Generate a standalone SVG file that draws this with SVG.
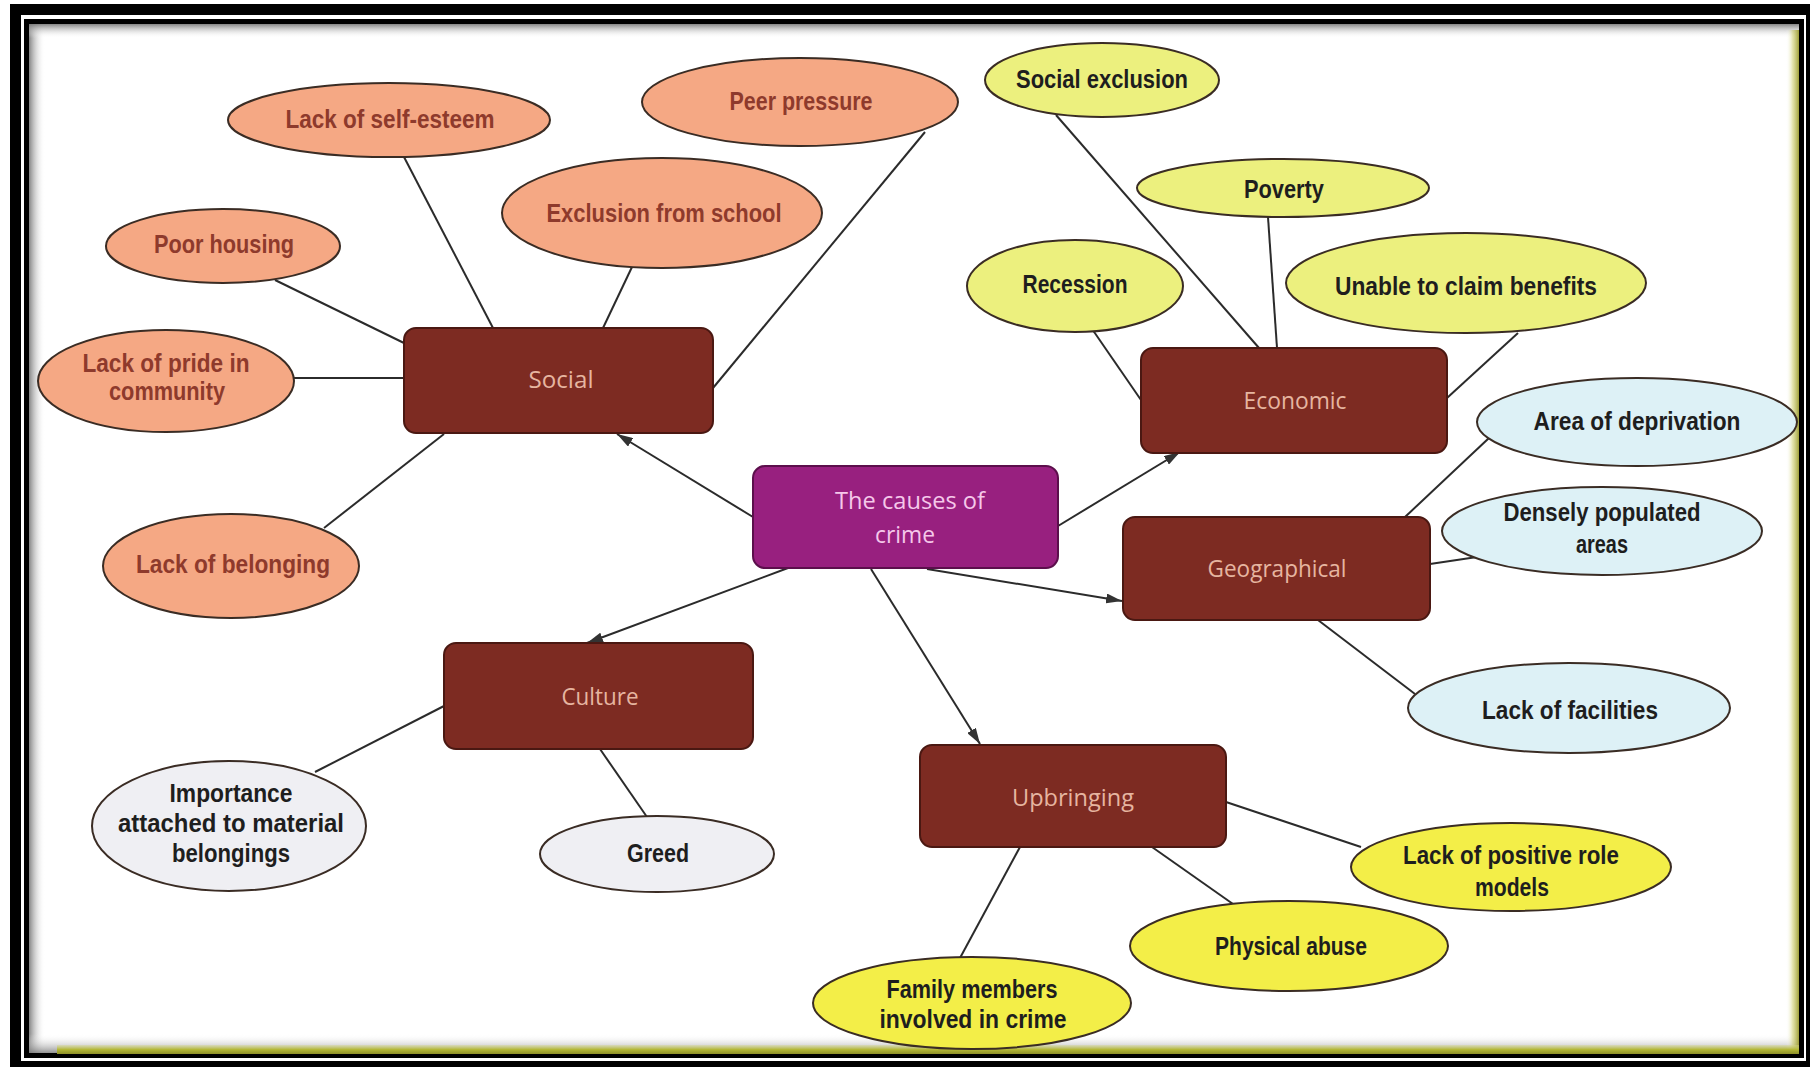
<svg xmlns="http://www.w3.org/2000/svg" width="1814" height="1067" viewBox="0 0 1814 1067">
  <defs>
    <style>
      .leaf { stroke: #3a2c24; stroke-width: 2; }
      .soc { fill: #f5a884; }
      .eco { fill: #ecf07e; }
      .geo { fill: #ddf1f6; }
      .cul { fill: #efeff3; }
      .upb { fill: #f3ee48; }
      .cat { fill: #7d2b22; stroke: #4a1812; stroke-width: 2; }
      .root { fill: #98207f; stroke: #5c0f4c; stroke-width: 2; }
      .lbl { font-family: "Liberation Sans Narrow", "Liberation Sans", "Open Sans", sans-serif; font-weight: bold; font-size: 25px; text-anchor: middle; fill: #1e1e1e; }
      .lbl.red { fill: #8e3a2c; }
      .cattxt { font-family: "Open Sans", "Noto Sans", sans-serif; font-weight: 400; font-size: 23px; text-anchor: middle; fill: #e6b5a0; }
      .roottxt { font-family: "Open Sans", "Noto Sans", sans-serif; font-weight: 400; font-size: 24px; text-anchor: middle; fill: #f5c8ea; }
      .link { stroke: #2b2b2b; stroke-width: 2; fill: none; }
      .arrow { marker-end: url(#head); }
    </style>
    <marker id="head" viewBox="0 0 16 10" refX="16" refY="5" markerWidth="16" markerHeight="10" markerUnits="userSpaceOnUse" orient="auto">
      <path d="M0,0 L16,5 L0,10 z" fill="#333"/>
    </marker>
    <linearGradient id="shL" x1="0" y1="0" x2="1" y2="0">
      <stop offset="0" stop-color="#777" stop-opacity="0.9"/>
      <stop offset="1" stop-color="#fff" stop-opacity="0"/>
    </linearGradient>
    <linearGradient id="shT" x1="0" y1="0" x2="0" y2="1">
      <stop offset="0" stop-color="#777" stop-opacity="0.9"/>
      <stop offset="1" stop-color="#fff" stop-opacity="0"/>
    </linearGradient>
    <linearGradient id="shB" x1="0" y1="1" x2="0" y2="0">
      <stop offset="0" stop-color="#777" stop-opacity="0.8"/>
      <stop offset="1" stop-color="#fff" stop-opacity="0"/>
    </linearGradient>
    <linearGradient id="shR" x1="1" y1="0" x2="0" y2="0">
      <stop offset="0" stop-color="#9a9a30" stop-opacity="0.95"/>
      <stop offset="0.5" stop-color="#c8c860" stop-opacity="0.5"/>
      <stop offset="1" stop-color="#fff" stop-opacity="0"/>
    </linearGradient>
    <linearGradient id="olive" x1="0" y1="0" x2="0" y2="1">
      <stop offset="0" stop-color="#d6d88a" stop-opacity="0.4"/>
      <stop offset="0.5" stop-color="#b4b838"/>
      <stop offset="1" stop-color="#8e9028"/>
    </linearGradient>
  </defs>

  <!-- page and frame -->
  <g id="frame">
    <rect x="0" y="0" width="1814" height="1067" fill="#ffffff"/>
    <path d="M10,4 H1810 V1067 H10 Z M21,15 V1061 H1806 V15 Z" fill="#000" fill-rule="evenodd"/>
    <rect x="26.5" y="21.5" width="1775" height="1034" fill="none" stroke="#000" stroke-width="5"/>
    <rect x="29" y="24" width="16" height="1029" fill="url(#shL)"/>
    <rect x="29" y="24" width="1770" height="14" fill="url(#shT)"/>
    <rect x="29" y="1034" width="1770" height="19" fill="url(#shB)"/>
    <rect x="1786" y="30" width="13" height="1023" fill="url(#shR)"/>
    <rect x="57" y="1045" width="1742" height="9" fill="url(#olive)"/>
  </g>

  <!-- connectors -->
  <g id="connectors">
    <line class="link arrow" x1="753" y1="517" x2="617" y2="434"/>
    <line class="link arrow" x1="788" y1="568" x2="587" y2="643"/>
    <line class="link arrow" x1="1058" y1="526" x2="1180" y2="452"/>
    <line class="link arrow" x1="927" y1="569" x2="1122" y2="601"/>
    <line class="link arrow" x1="871" y1="569" x2="980" y2="744"/>

    <line class="link" x1="404" y1="157" x2="493" y2="328"/>
    <line class="link" x1="632" y1="267" x2="603" y2="328"/>
    <line class="link" x1="275" y1="280" x2="404" y2="343"/>
    <line class="link" x1="294" y1="378" x2="404" y2="378"/>
    <line class="link" x1="324" y1="528" x2="444" y2="434"/>
    <line class="link" x1="925" y1="132" x2="713" y2="388"/>

    <line class="link" x1="1056" y1="115" x2="1259" y2="348"/>
    <line class="link" x1="1268" y1="217" x2="1277" y2="348"/>
    <line class="link" x1="1090" y1="326" x2="1141" y2="400"/>
    <line class="link" x1="1518" y1="333" x2="1447" y2="398"/>

    <line class="link" x1="1489" y1="438" x2="1405" y2="517"/>
    <line class="link" x1="1477" y1="557" x2="1430" y2="564"/>
    <line class="link" x1="1318" y1="620" x2="1415" y2="694"/>

    <line class="link" x1="444" y1="706" x2="315" y2="772"/>
    <line class="link" x1="600" y1="749" x2="647" y2="817"/>

    <line class="link" x1="1226" y1="802" x2="1361" y2="847"/>
    <line class="link" x1="1152" y1="847" x2="1233" y2="904"/>
    <line class="link" x1="1020" y1="847" x2="960" y2="958"/>
  </g>

  <!-- central topic -->
  <g id="causes">
    <rect class="root" x="753" y="466" width="305" height="102" rx="12"/>
    <text class="roottxt" x="910" y="509" textLength="150" lengthAdjust="spacingAndGlyphs">The causes of</text>
    <text class="roottxt" x="905" y="543" textLength="60" lengthAdjust="spacingAndGlyphs">crime</text>
  </g>

  <!-- categories -->
  <g id="social">
    <rect class="cat" x="404" y="328" width="309" height="105" rx="12"/>
    <text class="cattxt" x="561" y="388" textLength="65" lengthAdjust="spacingAndGlyphs">Social</text>
  </g>
  <g id="economic">
    <rect class="cat" x="1141" y="348" width="306" height="105" rx="12"/>
    <text class="cattxt" x="1295" y="409" textLength="103" lengthAdjust="spacingAndGlyphs">Economic</text>
  </g>
  <g id="geographical">
    <rect class="cat" x="1123" y="517" width="307" height="103" rx="12"/>
    <text class="cattxt" x="1277" y="577" textLength="139" lengthAdjust="spacingAndGlyphs">Geographical</text>
  </g>
  <g id="culture">
    <rect class="cat" x="444" y="643" width="309" height="106" rx="12"/>
    <text class="cattxt" x="600" y="705" textLength="77" lengthAdjust="spacingAndGlyphs">Culture</text>
  </g>
  <g id="upbringing">
    <rect class="cat" x="920" y="745" width="306" height="102" rx="12"/>
    <text class="cattxt" x="1073" y="806" textLength="122" lengthAdjust="spacingAndGlyphs">Upbringing</text>
  </g>

  <!-- social causes -->
  <g id="self-esteem">
    <ellipse class="leaf soc" cx="389" cy="120" rx="161" ry="37"/>
    <text class="lbl red" x="390" y="128" textLength="209" lengthAdjust="spacingAndGlyphs">Lack of self-esteem</text>
  </g>
  <g id="peer-pressure">
    <ellipse class="leaf soc" cx="800" cy="102" rx="158" ry="44"/>
    <text class="lbl red" x="801" y="110" textLength="143" lengthAdjust="spacingAndGlyphs">Peer pressure</text>
  </g>
  <g id="exclusion-school">
    <ellipse class="leaf soc" cx="662" cy="213" rx="160" ry="55"/>
    <text class="lbl red" x="664" y="222" textLength="235" lengthAdjust="spacingAndGlyphs">Exclusion from school</text>
  </g>
  <g id="poor-housing">
    <ellipse class="leaf soc" cx="223" cy="246" rx="117" ry="37"/>
    <text class="lbl red" x="224" y="253" textLength="140" lengthAdjust="spacingAndGlyphs">Poor housing</text>
  </g>
  <g id="pride">
    <ellipse class="leaf soc" cx="166" cy="381" rx="128" ry="51"/>
    <text class="lbl red" x="166" y="372" textLength="167" lengthAdjust="spacingAndGlyphs">Lack of pride in</text>
    <text class="lbl red" x="167" y="400" textLength="116" lengthAdjust="spacingAndGlyphs">community</text>
  </g>
  <g id="belonging">
    <ellipse class="leaf soc" cx="231" cy="566" rx="128" ry="52"/>
    <text class="lbl red" x="233" y="573" textLength="194" lengthAdjust="spacingAndGlyphs">Lack of belonging</text>
  </g>

  <!-- economic causes -->
  <g id="social-exclusion">
    <ellipse class="leaf eco" cx="1102" cy="80" rx="117" ry="37"/>
    <text class="lbl" x="1102" y="88" textLength="172" lengthAdjust="spacingAndGlyphs">Social exclusion</text>
  </g>
  <g id="poverty">
    <ellipse class="leaf eco" cx="1283" cy="188" rx="146" ry="29"/>
    <text class="lbl" x="1284" y="198" textLength="80" lengthAdjust="spacingAndGlyphs">Poverty</text>
  </g>
  <g id="recession">
    <ellipse class="leaf eco" cx="1075" cy="286" rx="108" ry="46"/>
    <text class="lbl" x="1075" y="293" textLength="105" lengthAdjust="spacingAndGlyphs">Recession</text>
  </g>
  <g id="benefits">
    <ellipse class="leaf eco" cx="1466" cy="283" rx="180" ry="50"/>
    <text class="lbl" x="1466" y="295" textLength="262" lengthAdjust="spacingAndGlyphs">Unable to claim benefits</text>
  </g>

  <!-- geographical causes -->
  <g id="deprivation">
    <ellipse class="leaf geo" cx="1637" cy="422" rx="160" ry="44"/>
    <text class="lbl" x="1637" y="430" textLength="207" lengthAdjust="spacingAndGlyphs">Area of deprivation</text>
  </g>
  <g id="densely">
    <ellipse class="leaf geo" cx="1602" cy="531" rx="160" ry="44"/>
    <text class="lbl" x="1602" y="521" textLength="197" lengthAdjust="spacingAndGlyphs">Densely populated</text>
    <text class="lbl" x="1602" y="553" textLength="52" lengthAdjust="spacingAndGlyphs">areas</text>
  </g>
  <g id="facilities">
    <ellipse class="leaf geo" cx="1569" cy="708" rx="161" ry="45"/>
    <text class="lbl" x="1570" y="719" textLength="176" lengthAdjust="spacingAndGlyphs">Lack of facilities</text>
  </g>

  <!-- cultural causes -->
  <g id="material">
    <ellipse class="leaf cul" cx="229" cy="826" rx="137" ry="65"/>
    <text class="lbl" x="231" y="802" textLength="123" lengthAdjust="spacingAndGlyphs">Importance</text>
    <text class="lbl" x="231" y="832" textLength="226" lengthAdjust="spacingAndGlyphs">attached to material</text>
    <text class="lbl" x="231" y="862" textLength="118" lengthAdjust="spacingAndGlyphs">belongings</text>
  </g>
  <g id="greed">
    <ellipse class="leaf cul" cx="657" cy="854" rx="117" ry="38"/>
    <text class="lbl" x="658" y="862" textLength="62" lengthAdjust="spacingAndGlyphs">Greed</text>
  </g>

  <!-- upbringing causes -->
  <g id="role-models">
    <ellipse class="leaf upb" cx="1511" cy="867" rx="160" ry="44"/>
    <text class="lbl" x="1511" y="864" textLength="216" lengthAdjust="spacingAndGlyphs">Lack of positive role</text>
    <text class="lbl" x="1512" y="896" textLength="74" lengthAdjust="spacingAndGlyphs">models</text>
  </g>
  <g id="physical-abuse">
    <ellipse class="leaf upb" cx="1289" cy="946" rx="159" ry="45"/>
    <text class="lbl" x="1291" y="955" textLength="152" lengthAdjust="spacingAndGlyphs">Physical abuse</text>
  </g>
  <g id="family">
    <ellipse class="leaf upb" cx="972" cy="1003" rx="159" ry="46"/>
    <text class="lbl" x="972" y="998" textLength="171" lengthAdjust="spacingAndGlyphs">Family members</text>
    <text class="lbl" x="973" y="1028" textLength="187" lengthAdjust="spacingAndGlyphs">involved in crime</text>
  </g>
</svg>
